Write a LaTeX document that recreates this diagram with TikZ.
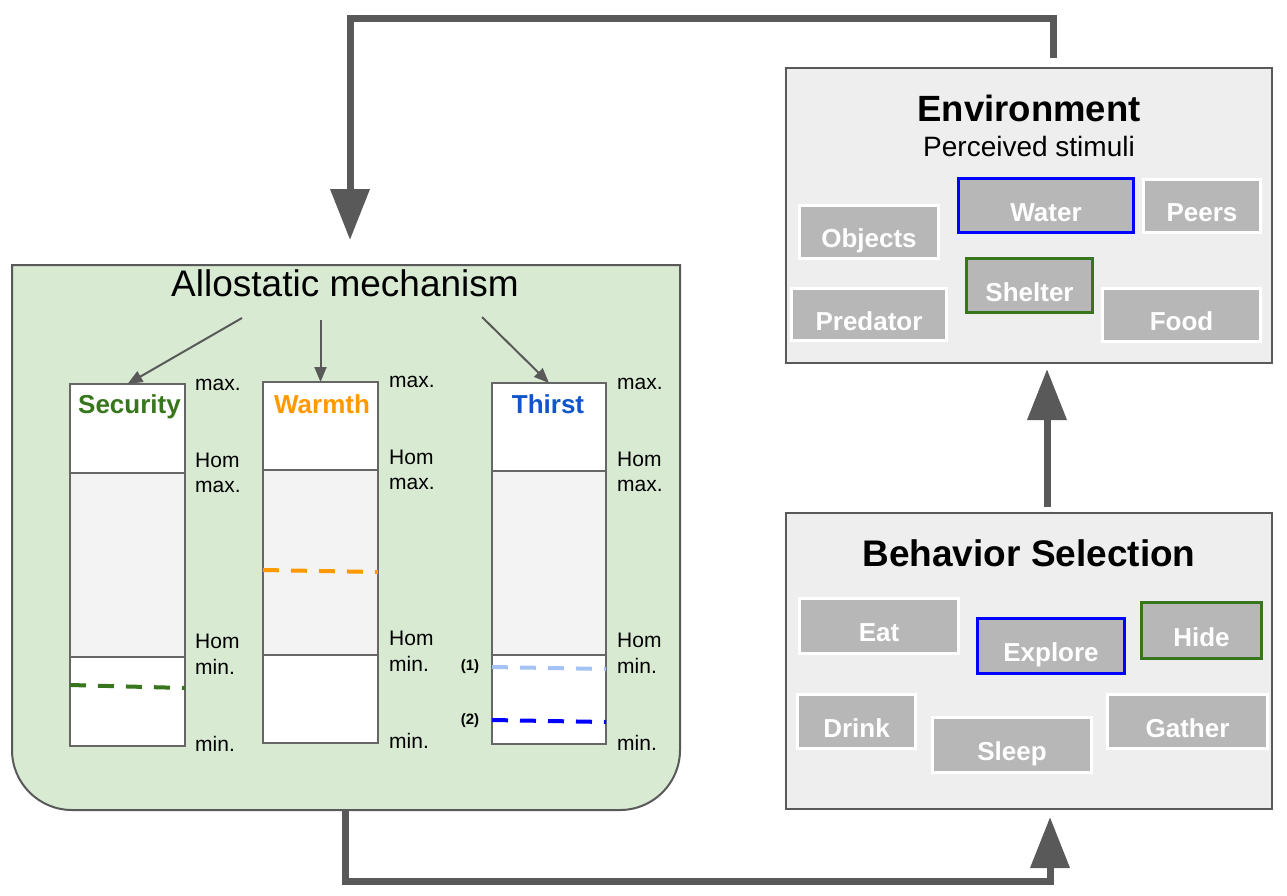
\documentclass[tikz,border=0pt]{standalone}
\usepackage{fontspec}
\setmainfont{Liberation Sans}
\usetikzlibrary{arrows.meta}
\definecolor{dgray}{HTML}{595959}
\definecolor{allo}{HTML}{D9EAD3}
\definecolor{panel}{HTML}{EEEEEE}
\definecolor{stimfill}{HTML}{B7B7B7}
\definecolor{homgray}{HTML}{F3F3F3}
\definecolor{secgreen}{HTML}{38761D}
\definecolor{warmorange}{HTML}{FF9900}
\definecolor{thirstblue}{HTML}{1155CC}
\definecolor{lightblue}{HTML}{A4C2F4}
\definecolor{pureblue}{HTML}{0000FF}
\definecolor{colborder}{HTML}{666666}
\begin{document}
\begin{tikzpicture}[x=1pt,y=-1pt,
  bigarrow/.style={draw=dgray, line width=7pt, line join=miter, -{Triangle[length=51pt,width=38pt]}},
  smallarrow/.style={draw=dgray, line width=2pt, -{Triangle[length=15pt,width=12pt]}},
  panelbox/.style={draw=dgray, line width=2.5pt, fill=panel, inner sep=0pt, outer sep=0pt, minimum width=486pt},
  stim/.style={draw=white, line width=3.5pt, fill=stimfill, inner sep=0pt, outer sep=0pt, text=white,
     font=\fontsize{26}{30}\selectfont\bfseries, text height=31.6pt, text depth=0pt},
  bluesel/.style={draw=pureblue},
  greensel/.style={draw=secgreen},
  colsec/.style={draw=colborder, line width=2pt, inner sep=0pt, outer sep=0pt},
  coltitle/.style={anchor=base, inner sep=0pt, font=\fontsize{26}{30}\selectfont\bfseries},
  side/.style={anchor=base west, inner sep=0pt, font=\fontsize{21}{24}\selectfont},
  numlab/.style={inner sep=0pt, font=\fontsize{15}{18}\selectfont\bfseries},
  level/.style={line width=4pt, dash pattern=on 16pt off 12pt},
]
\useasboundingbox (0,0) rectangle (1287,895);

% ---------- Allostatic mechanism panel ----------
\path[draw=dgray, line width=2pt, fill=allo] (12,265) -- (680,265) -- (680,750)
  arc[start angle=0,end angle=90,radius=60] -- (72,810)
  arc[start angle=90,end angle=180,radius=60] -- cycle;
\node[anchor=base, inner sep=0pt, font=\fontsize{37}{40}\selectfont] (allotitle) at (345,296) {Allostatic mechanism};

% Security column
\node[colsec, fill=white, minimum width=115pt, minimum height=89pt] (secT) at (127.5,428.5) {};
\node[colsec, fill=homgray, minimum width=115pt, minimum height=184pt] (secM) at (127.5,565) {};
\node[colsec, fill=white, minimum width=115pt, minimum height=89pt] (secB) at (127.5,701.5) {};
\node[coltitle, text=secgreen] (secL) at (129.5,413) {Security};
\draw[level, secgreen] (70,685) -- (185,688);

% Warmth column
\node[colsec, fill=white, minimum width=115pt, minimum height=88pt] (warT) at (320.5,426) {};
\node[colsec, fill=homgray, minimum width=115pt, minimum height=185pt] (warM) at (320.5,562.5) {};
\node[colsec, fill=white, minimum width=115pt, minimum height=88pt] (warB) at (320.5,699) {};
\node[coltitle, text=warmorange] (warL) at (322,413) {Warmth};
\draw[level, warmorange] (263,570) -- (378,572);

% Thirst column
\node[colsec, fill=white, minimum width=114pt, minimum height=88pt] (thiT) at (549,427) {};
\node[colsec, fill=homgray, minimum width=114pt, minimum height=184pt] (thiM) at (549,563) {};
\node[colsec, fill=white, minimum width=114pt, minimum height=89pt] (thiB) at (549,699.5) {};
\node[coltitle, text=thirstblue] (thiL) at (548,413) {Thirst};
\draw[level, lightblue] (492,667) -- (606,669);
\draw[level, pureblue] (492,720) -- (606,722);
\node[numlab] (one) at (470,667) {(1)};
\node[numlab] (two) at (470,721) {(2)};

% side labels
\foreach \c/\x/\dy in {s/195/0, w/389/-3, t/617/-1}{
  \node[side] (\c maxa) at ({\x},{390+(\dy)}) {max.};
  \node[side] (\c homa) at ({\x},{467+(\dy)}) {Hom};
  \node[side] (\c maxb) at ({\x},{492+(\dy)}) {max.};
  \node[side] (\c homb) at ({\x},{648+(\dy)}) {Hom};
  \node[side] (\c mina) at ({\x},{674+(\dy)}) {min.};
  \node[side] (\c minb) at ({\x},{751+(\dy)}) {min.};
}

% arrows from the title
\coordinate (s1) at (242,318);
\coordinate (s2) at (320.5,320);
\coordinate (s3) at (482,317);
\draw[smallarrow] (s1) -- (secT.north);
\draw[smallarrow] (s2) -- (warT.north);
\draw[smallarrow] (s3) -- (thiT.north);

% ---------- Environment panel ----------
\node[panelbox, minimum height=295pt] (env) at (1029,215.5) {};
\node[anchor=base, inner sep=0pt, font=\fontsize{36.5}{40}\selectfont\bfseries] (envtitle) at (1029,121) {Environment};
\node[anchor=base, inner sep=0pt, font=\fontsize{28}{32}\selectfont] (envsub) at (1029,156) {Perceived stimuli};

\node[stim, minimum width=139pt, minimum height=53pt] (objects) at (869,232) {Objects};
\node[stim, bluesel, minimum width=175pt, minimum height=54pt] (water) at (1046,205.5) {Water};
\node[stim, minimum width=117pt, minimum height=53pt] (peers) at (1202,206) {Peers};
\node[stim, greensel, minimum width=126pt, minimum height=54pt] (shelter) at (1029.5,285.5) {Shelter};
\node[stim, minimum width=155pt, minimum height=52pt] (predator) at (869,314.5) {Predator};
\node[stim, minimum width=158pt, minimum height=53pt] (food) at (1181.5,315) {Food};

% ---------- Behavior Selection panel ----------
\node[panelbox, minimum height=296pt] (beh) at (1029,661) {};
\node[anchor=base, inner sep=0pt, font=\fontsize{37}{40}\selectfont\bfseries] (behtitle) at (1029,566) {Behavior Selection};

\node[stim, minimum width=159pt, minimum height=55pt] (eat) at (879,626) {Eat};
\node[stim, bluesel, minimum width=147pt, minimum height=55pt] (explore) at (1051,646) {Explore};
\node[stim, greensel, minimum width=120pt, minimum height=56pt] (hide) at (1201.5,630.5) {Hide};
\node[stim, minimum width=118pt, minimum height=54pt] (drink) at (856.5,721.5) {Drink};
\node[stim, minimum width=159pt, minimum height=55pt] (sleep) at (1012,745) {Sleep};
\node[stim, minimum width=160pt, minimum height=54pt] (gather) at (1187.5,721.5) {Gather};

% ---------- big connectors ----------
\coordinate (alloIn) at (350,240);
\coordinate (alloOut) at (345,811);
\draw[bigarrow] ([xshift=24pt,yshift=10pt]env.north) -- ++(0,-40) -| (alloIn);
\draw[bigarrow] ([xshift=18pt,yshift=6pt]beh.north) -- ([xshift=18pt,yshift=-6pt]env.south);
\draw[bigarrow] (alloOut) -- ++(0,70) -| ([xshift=21pt,yshift=-8pt]beh.south);
\end{tikzpicture}
\end{document}
